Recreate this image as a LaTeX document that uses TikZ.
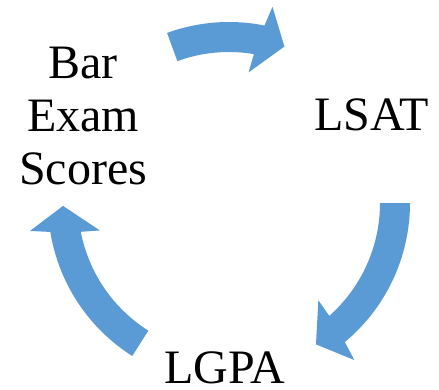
\documentclass[tikz,border=0pt]{standalone}
\usepackage{fontspec}
\setmainfont{Liberation Serif}
\usetikzlibrary{calc}
\definecolor{cycblue}{RGB}{91,155,213}
\tikzset{
  lbl/.style={font=\fontsize{48bp}{53bp}\selectfont, inner sep=0pt, text=black},
  cyc/.style={fill=cycblue, draw=none}
}
\newcommand{\cycarrow}[2]{%
  \fill[cyc] ($(C)+(#1:181)$) arc[start angle=#1, end angle=#2+8.2, radius=181]
    -- ($(C)+(#2+7:201)$) -- ($(C)+(#2:166)$) -- ($(C)+(#2+11:132)$) -- ($(C)+(#2+10:151)$)
    arc[start angle=#2+10, end angle=#1, radius=151] -- cycle;}
\begin{document}
\begin{tikzpicture}[x=1bp,y=1bp]
\useasboundingbox (0,0) rectangle (439,389);
\coordinate (C) at (229,186);
\cycarrow{110}{70.5}
\cycarrow{0}{-58.4}
\cycarrow{237.7}{181}
\node[lbl, align=center, anchor=base] (bar) at (83,205) {Bar\\Exam\\Scores};
\node[lbl, anchor=base] (lsat) at (371.5,259) {LSAT};
\node[lbl, anchor=base] (lgpa) at (225,6) {LGPA};
\end{tikzpicture}
\end{document}
